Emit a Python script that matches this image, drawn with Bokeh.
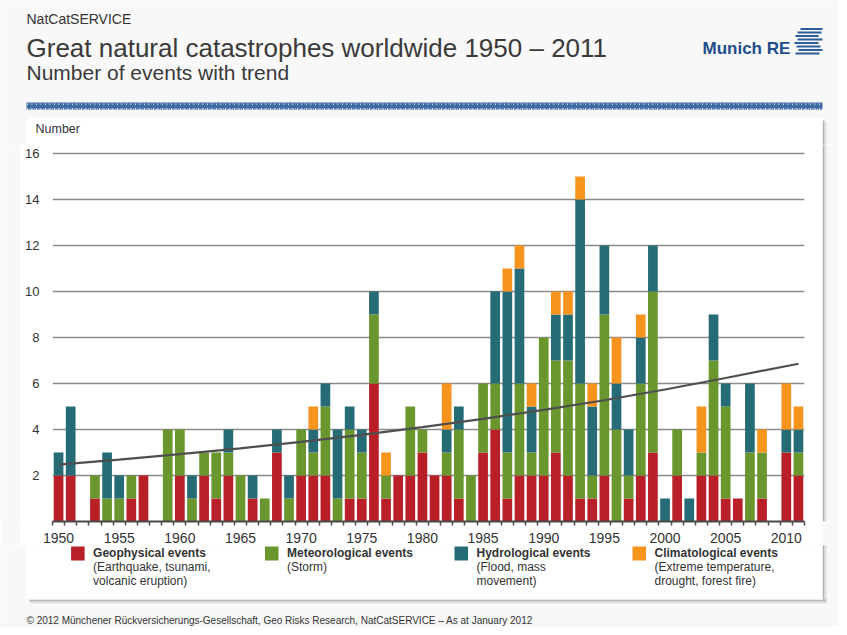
from bokeh.plotting import figure
from bokeh.models import ColumnDataSource, Range1d, FixedTicker, Label
from bokeh.layouts import column, row
from bokeh.embed import file_html
from bokeh.resources import INLINE

# ---------------- data ----------------
years = list(range(1950, 2012))
geophysical = [2, 2, 0, 1, 0, 0, 1, 2, 0, 0,
               2, 0, 2, 1, 2, 0, 1, 0, 3, 0,
               2, 2, 2, 0, 1, 1, 6, 1, 2, 2,
               3, 2, 2, 1, 0, 3, 4, 1, 2, 2,
               2, 3, 2, 1, 1, 2, 0, 1, 2, 3,
               0, 2, 0, 2, 2, 1, 1, 0, 1, 0,
               3, 2]
meteorological = [0, 0, 0, 1, 1, 1, 1, 0, 0, 4,
                  2, 1, 1, 2, 1, 2, 0, 1, 0, 1,
                  2, 1, 3, 1, 3, 2, 3, 1, 0, 3,
                  1, 0, 1, 3, 2, 3, 2, 2, 4, 1,
                  6, 4, 5, 5, 1, 7, 4, 1, 4, 7,
                  0, 2, 0, 1, 5, 4, 0, 3, 2, 0,
                  0, 1]
hydrological = [1, 3, 0, 0, 2, 1, 0, 0, 0, 0,
                0, 1, 0, 0, 1, 0, 1, 0, 1, 1,
                0, 1, 1, 3, 1, 1, 1, 0, 0, 0,
                0, 0, 1, 1, 0, 0, 4, 7, 5, 2,
                0, 2, 2, 8, 3, 3, 2, 2, 2, 2,
                1, 0, 1, 0, 2, 1, 0, 3, 0, 0,
                1, 1]
climatological = [0, 0, 0, 0, 0, 0, 0, 0, 0, 0,
                  0, 0, 0, 0, 0, 0, 0, 0, 0, 0,
                  0, 1, 0, 0, 0, 0, 0, 1, 0, 0,
                  0, 0, 2, 0, 0, 0, 0, 1, 1, 1,
                  0, 1, 1, 1, 1, 0, 2, 0, 1, 0,
                  0, 0, 0, 2, 0, 0, 0, 0, 1, 0,
                  2, 1]
trend_years = [1950, 1955, 1960, 1965, 1970, 1975, 1980, 1985, 1990, 1995, 2000, 2005, 2011]
trend_values = [2.47, 2.69, 2.93, 3.18, 3.46, 3.77, 4.10, 4.46, 4.85, 5.27, 5.74, 6.24, 6.86]
x_tick_years = [1950, 1955, 1960, 1965, 1970, 1975, 1980, 1985, 1990, 1995, 2000, 2005, 2010]
y_ticks = [2, 4, 6, 8, 10, 12, 14, 16]

series = ["geophysical", "meteorological", "hydrological", "climatological"]
colors = ["#b81f27", "#6a962e", "#266c76", "#f7941e"]
legend_titles = ["Geophysical events", "Meteorological events", "Hydrological events", "Climatological events"]
legend_notes = [["(Earthquake, tsunami,", "volcanic eruption)"],
                ["(Storm)"],
                ["(Flood, mass", "movement)"],
                ["(Extreme temperature,", "drought, forest fire)"]]

FONT = "Liberation Sans"
TXT = "#333333"
BG = "#f8f8f8"
BLUE = "#25599a"
SHADOW_IN = "#b3b3b3"
SHADOW_OUT = "#dcdcdc"


def deco_fig(w, h, bg):
    f = figure(width=w, height=h, output_backend="svg", toolbar_location=None,
               x_range=Range1d(0, w), y_range=Range1d(h, 0),
               x_axis_location=None, y_axis_location=None, min_border=0)
    f.border_fill_color = bg
    f.background_fill_color = bg
    f.outline_line_color = None
    f.grid.visible = False
    return f


def label(f, x, y, text, size, color=TXT, style="normal"):
    f.add_layout(Label(x=x, y=y, text=text, text_font=FONT, text_font_size=size,
                       text_color=color, text_font_style=style,
                       text_align="left", text_baseline="middle"))


def vshadow(f, x, top, bottom):
    f.quad(left=x, right=x + 2, top=top, bottom=bottom, fill_color=SHADOW_IN, line_color=None)
    f.quad(left=x + 2, right=x + 4, top=top + 1, bottom=bottom + 1, fill_color=SHADOW_OUT, line_color=None)


# ---------------- header (grey) + top of the white panel ----------------
header = deco_fig(839, 144, BG)
vshadow(header, 822, 120, 144)
header.quad(left=26, right=822, top=117, bottom=144, fill_color="white", line_color=None)
label(header, 26, 18, "NatCatSERVICE", "14px")
label(header, 26, 47, "Great natural catastrophes worldwide 1950 \u2013 2011", "26px", color="#3a3a3a")
label(header, 26, 72, "Number of events with trend", "21px", color="#3a3a3a")
label(header, 702, 47.5, "Munich RE", "17px", color="#1f4e8c", style="bold")
header.quad(left=26, right=822, top=102, bottom=109, fill_color=BG, line_color=None,
            hatch_pattern="/", hatch_color=BLUE, hatch_scale=4.5, hatch_weight=1.8)
logo_l = [800, 797, 795, 797, 794, 796, 798, 795]
logo_r = [822, 821, 818, 822, 818, 820, 822, 819]
logo_t = [27.5 + 3.5 * i for i in range(8)]
header.quad(left=logo_l, right=logo_r, top=logo_t, bottom=[t + 2 for t in logo_t],
            fill_color="#2a5d9a", line_color=None)
label(header, 35, 128.5, "Number", "12.5px")

# ---------------- main chart ----------------
source = ColumnDataSource(dict(year=years, geophysical=geophysical, meteorological=meteorological,
                               hydrological=hydrological, climatological=climatological))

p = figure(frame_width=752, frame_height=377, output_backend="svg", toolbar_location=None,
           x_range=Range1d(1949.5, 2011.5), y_range=Range1d(0, 16.391),
           min_border_left=32, min_border_right=18, min_border_top=0, min_border_bottom=24)
p.border_fill_color = "white"
p.background_fill_color = "white"
p.outline_line_color = None

p.vbar_stack(series, x="year", width=0.8, color=colors, line_color=None, source=source)
p.line(trend_years, trend_values, line_color="#4f4f4f", line_width=2.2)

p.xaxis.ticker = FixedTicker(ticks=x_tick_years, minor_ticks=[y - 0.5 for y in years] + [2011.5])
p.xaxis.axis_line_color = "#4a4a4a"
p.xaxis.axis_line_width = 2
p.xaxis.major_tick_out = 0
p.xaxis.major_tick_in = 0
p.xaxis.minor_tick_out = 4
p.xaxis.minor_tick_in = 0
p.xaxis.minor_tick_line_color = "#4a4a4a"
p.xaxis.minor_tick_line_width = 1.5
p.xaxis.major_label_text_font = FONT
p.xaxis.major_label_text_font_size = "14px"
p.xaxis.major_label_text_color = TXT
p.xaxis.major_label_standoff = 7

p.yaxis.ticker = FixedTicker(ticks=y_ticks)
p.yaxis.axis_line_color = None
p.yaxis.major_tick_out = 0
p.yaxis.major_tick_in = 0
p.yaxis.minor_tick_out = 0
p.yaxis.minor_tick_in = 0
p.yaxis.major_tick_line_color = None
p.yaxis.minor_tick_line_color = None
p.yaxis.major_label_text_font = FONT
p.yaxis.major_label_text_font_size = "13px"
p.yaxis.major_label_text_color = TXT
p.yaxis.major_label_standoff = 13

p.xgrid.grid_line_color = None
p.ygrid.ticker = FixedTicker(ticks=y_ticks)
p.ygrid.grid_line_color = "#8a8a8a"
p.ygrid.grid_line_width = 1.5

# ---------------- side strips ----------------
left = deco_fig(20, 401, BG)
right = deco_fig(17, 401, BG)
vshadow(right, 0, -2, 401)

# ---------------- bottom: legend (white panel) + footer (grey) ----------------
bottom = deco_fig(839, 82, BG)
vshadow(bottom, 822, -2, 54)
bottom.quad(left=29, right=826, top=54, bottom=56, fill_color=SHADOW_IN, line_color=None)
bottom.quad(left=30, right=826, top=56, bottom=58, fill_color=SHADOW_OUT, line_color=None)
bottom.quad(left=26, right=822, top=0, bottom=54, fill_color="white", line_color=None)

leg_sq_x = [70.6, 264.5, 454, 632]
bottom.quad(left=leg_sq_x, right=[x + 13.5 for x in leg_sq_x], top=[1] * 4, bottom=[15] * 4,
            fill_color=colors, line_color=None)
for i in range(4):
    tx = leg_sq_x[i] + 22
    label(bottom, tx, 7.7, legend_titles[i], "12px", style="bold")
    for j, line in enumerate(legend_notes[i]):
        label(bottom, tx, 21 + 14 * j, line, "12px")

label(bottom, 26, 74.5, "\u00a9 2012 M\u00fcnchener R\u00fcckversicherungs-Gesellschaft, Geo Risks Research, "
                        "NatCatSERVICE \u2013 As at January 2012", "10px")

layout = column(header, row(left, p, right, spacing=0), bottom, spacing=0)

open("out.html", "w").write(file_html(layout, INLINE))
